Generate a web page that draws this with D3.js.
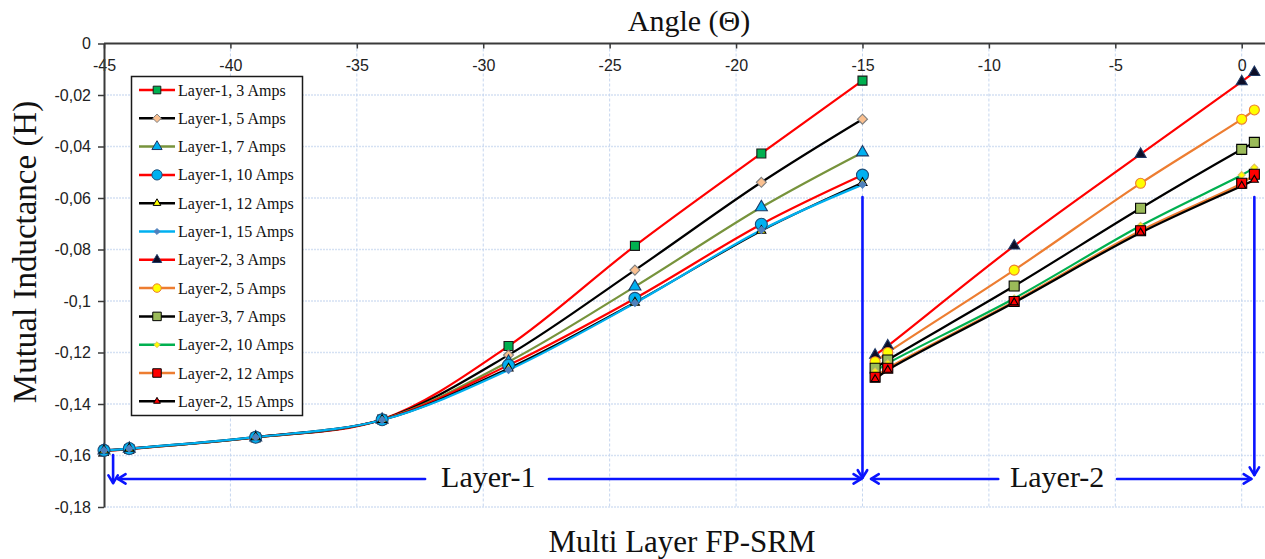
<!DOCTYPE html>
<html>
<head>
<meta charset="utf-8">
<script src="https://cdn.jsdelivr.net/npm/d3@7/dist/d3.min.js"></script>
<style>
  html, body { margin: 0; padding: 0; background: #fff; }
  svg { display: block; }
</style>
</head>
<body>
<svg id="chart" width="1265" height="559"></svg>
<script>
// ---------- DATA ----------
const xTickValues = [-45, -40, -35, -30, -25, -20, -15, -10, -5, 0];
const xTickLabels = ["-45", "-40", "-35", "-30", "-25", "-20", "-15", "-10", "-5", "0"];
const yTickValues = [0, -0.02, -0.04, -0.06, -0.08, -0.1, -0.12, -0.14, -0.16, -0.18];
const yTickLabels = ["0", "-0,02", "-0,04", "-0,06", "-0,08", "-0,1", "-0,12", "-0,14", "-0,16", "-0,18"];

const anglesLayer1 = [-45, -44, -39, -34, -29, -24, -19, -15];
const anglesLayer2 = [-14.5, -14, -9, -4, 0, 0.5];

const seriesNames = [
  "Layer-1, 3 Amps", "Layer-1, 5 Amps", "Layer-1, 7 Amps", "Layer-1, 10 Amps",
  "Layer-1, 12 Amps", "Layer-1, 15 Amps", "Layer-2, 3 Amps", "Layer-2, 5 Amps",
  "Layer-3, 7 Amps", "Layer-2, 10 Amps", "Layer-2, 12 Amps", "Layer-2, 15 Amps"
];

const layer1_3A  = [-0.1582, -0.1575, -0.1530, -0.1460, -0.1175, -0.0786, -0.0427, -0.0144];
const layer1_5A  = [-0.1581, -0.1574, -0.1530, -0.1460, -0.1210, -0.0880, -0.0539, -0.0294];
const layer1_7A  = [-0.1581, -0.1574, -0.1530, -0.1461, -0.1236, -0.0944, -0.0636, -0.0423];
const layer1_10A = [-0.1580, -0.1573, -0.1529, -0.1461, -0.1249, -0.0990, -0.0702, -0.0511];
const layer1_12A = [-0.1580, -0.1573, -0.1529, -0.1462, -0.1262, -0.1006, -0.0727, -0.0541];
const layer1_15A = [-0.1580, -0.1573, -0.1529, -0.1462, -0.1268, -0.1008, -0.0724, -0.0548];

const layer2_3A  = [-0.1210, -0.1174, -0.0786, -0.0430, -0.0148, -0.0112];
const layer2_5A  = [-0.1236, -0.1200, -0.0880, -0.0543, -0.0294, -0.0258];
const layer3_7A  = [-0.1261, -0.1229, -0.0942, -0.0640, -0.0411, -0.0384];
const layer2_10A = [-0.1274, -0.1242, -0.0990, -0.0708, -0.0511, -0.0482];
const layer2_12A = [-0.1296, -0.1261, -0.1002, -0.0727, -0.0543, -0.0508];
const layer2_15A = [-0.1304, -0.1268, -0.1006, -0.0735, -0.0553, -0.0530];

// Annotation positions (data units)
const layerLabels = ["Layer-1", "Layer-2"];

// ---------- STYLES ----------
const styles = [
  { line: "#ff0000", shape: "square",   fill: "#00b050", stroke: "#1a1a1a", size: 9 },
  { line: "#000000", shape: "diamond",  fill: "#fac090", stroke: "#7f7f7f", size: 10 },
  { line: "#77933c", shape: "triangle", fill: "#00b0f0", stroke: "#1f3864", size: 12 },
  { line: "#ff0000", shape: "circle",   fill: "#00b0f0", stroke: "#1f4e79", size: 12 },
  { line: "#000000", shape: "triangle", fill: "#ffff00", stroke: "#000000", size: 9 },
  { line: "#00b0f0", shape: "diamond",  fill: "#4f81bd", stroke: "#4f81bd", size: 7 },
  { line: "#ff0000", shape: "triangle", fill: "#0d0d26", stroke: "#1f3864", size: 11 },
  { line: "#ed7d31", shape: "circle",   fill: "#ffff00", stroke: "#ed7d31", size: 10 },
  { line: "#000000", shape: "square",   fill: "#9bbb59", stroke: "#000000", size: 10 },
  { line: "#00b050", shape: "diamond",  fill: "#ffff00", stroke: "#e0c060", size: 7 },
  { line: "#ed7d31", shape: "square",   fill: "#ff0000", stroke: "#000000", size: 10 },
  { line: "#000000", shape: "triangle", fill: "#ff0000", stroke: "#000000", size: 8 }
];

const seriesValues = [layer1_3A, layer1_5A, layer1_7A, layer1_10A, layer1_12A, layer1_15A,
                      layer2_3A, layer2_5A, layer3_7A, layer2_10A, layer2_12A, layer2_15A];

const series = seriesNames.map((name, i) => {
  const xs = i < 6 ? anglesLayer1 : anglesLayer2;
  return { name, style: styles[i], points: xs.map((x, j) => ({ x, y: seriesValues[i][j] })) };
});

// ---------- CHART ----------
const svg = d3.select("#chart");
const x = d3.scaleLinear().domain([-45, 1]).range([104, 1267]);
const y = d3.scaleLinear().domain([0, -0.18]).range([43.5, 507]);

const serif = "'Liberation Serif', 'Times New Roman', serif";
const sans = "'Liberation Sans', Arial, sans-serif";

// gridlines
svg.append("g").selectAll("line").data(yTickValues.slice(1)).join("line")
  .attr("x1", x(-45)).attr("x2", 1265)
  .attr("y1", d => y(d)).attr("y2", d => y(d))
  .attr("stroke", "#d5e1f3").attr("stroke-width", 1.5).attr("stroke-dasharray", "2,1");
svg.append("g").selectAll("line").data(xTickValues.slice(1)).join("line")
  .attr("x1", d => x(d)).attr("x2", d => x(d))
  .attr("y1", y(0)).attr("y2", y(-0.18))
  .attr("stroke", "#c5d6ef").attr("stroke-width", 1).attr("stroke-dasharray", "3,2");

// top x-axis (ticks pointing down, labels below the line)
const xAxis = d3.axisBottom(x).tickValues(xTickValues)
  .tickFormat((d, i) => xTickLabels[i]).tickSize(5).tickSizeOuter(0);
const gx = svg.append("g").attr("transform", `translate(0,${y(0)})`).call(xAxis);
gx.select(".domain").attr("stroke", "#3a3a3a").attr("stroke-width", 2)
  .attr("d", `M${x(-45)},0H1265`);
gx.selectAll(".tick line").attr("stroke", "#3a3a3a").attr("stroke-width", 1.5);
gx.selectAll(".tick text").attr("font-family", sans).attr("font-size", 16)
  .attr("fill", "#222").attr("dy", null).attr("y", 27);

// left y-axis
const yAxis = d3.axisLeft(y).tickValues(yTickValues)
  .tickFormat((d, i) => yTickLabels[i]).tickSize(6).tickSizeOuter(0);
const gy = svg.append("g").attr("transform", `translate(${x(-45)},0)`).call(yAxis);
gy.select(".domain").attr("stroke", "#3a3a3a").attr("stroke-width", 2);
gy.selectAll(".tick line").attr("stroke", "#3a3a3a").attr("stroke-width", 1.5);
gy.selectAll(".tick text").attr("font-family", sans).attr("font-size", 16)
  .attr("fill", "#222").attr("x", -13);

// symbols
function symbolPath(shape, size) {
  const s = size;
  if (shape === "square") return d3.symbol(d3.symbolSquare, s * s)();
  if (shape === "circle") return d3.symbol(d3.symbolCircle, Math.PI * (s / 2) * (s / 2))();
  if (shape === "triangle") return d3.symbol(d3.symbolTriangle, s * s * 0.433)();
  // diamond (rotated square)
  const h = s / 2;
  return `M0,${-h}L${h},0L0,${h}L${-h},0Z`;
}

// lines
const lineGen = d3.line().x(d => x(d.x)).y(d => y(d.y)).curve(d3.curveCatmullRom.alpha(0.5));
const gLines = svg.append("g");
series.forEach(s => {
  gLines.append("path").datum(s.points)
    .attr("d", lineGen).attr("fill", "none")
    .attr("stroke", s.style.line).attr("stroke-width", 2.2);
});
// markers
const gMarks = svg.append("g");
series.forEach(s => {
  gMarks.selectAll(null).data(s.points).join("path")
    .attr("d", symbolPath(s.style.shape, s.style.size))
    .attr("transform", d => `translate(${x(d.x)},${y(d.y)})`)
    .attr("fill", s.style.fill).attr("stroke", s.style.stroke).attr("stroke-width", 1.1);
});

// legend
const legend = svg.append("g");
legend.append("rect").attr("x", 131.5).attr("y", 76.5).attr("width", 171).attr("height", 339)
  .attr("fill", "#fff").attr("stroke", "#1a1a1a").attr("stroke-width", 1.5);
series.forEach((s, i) => {
  const cy = 90 + i * 28.3;
  legend.append("line").attr("x1", 139).attr("x2", 175).attr("y1", cy).attr("y2", cy)
    .attr("stroke", s.style.line).attr("stroke-width", 2.5);
  legend.append("path").attr("d", symbolPath(s.style.shape, s.style.size * 0.85))
    .attr("transform", `translate(157,${cy})`)
    .attr("fill", s.style.fill).attr("stroke", s.style.stroke).attr("stroke-width", 1);
  legend.append("text").attr("x", 178).attr("y", cy + 5.5)
    .attr("font-family", serif).attr("font-size", 16).attr("fill", "#111").text(s.name);
});

// annotation arrows
const blue = "#0a14ff";
const gAnn = svg.append("g").attr("stroke", blue).attr("stroke-width", 2.6).attr("fill", "none")
  .attr("stroke-linecap", "round").attr("stroke-linejoin", "round");
function arrow(x1, y1, x2, y2) {
  gAnn.append("line").attr("x1", x1).attr("y1", y1).attr("x2", x2).attr("y2", y2);
  const ang = Math.atan2(y2 - y1, x2 - x1);
  const L = 9, a = 0.55;
  const p1 = [x2 - L * Math.cos(ang - a), y2 - L * Math.sin(ang - a)];
  const p2 = [x2 - L * Math.cos(ang + a), y2 - L * Math.sin(ang + a)];
  gAnn.append("path").attr("d", `M${p1[0]},${p1[1]}L${x2},${y2}L${p2[0]},${p2[1]}`);
}
const ay = y(-0.1691);
arrow(x(-44.64), y(-0.1598), x(-44.64), y(-0.1707));
arrow(x(-32.3), ay, x(-44.45), ay);
arrow(x(-27.4), ay, x(-15.05), ay);
arrow(x(-15), y(-0.0596), x(-15), y(-0.1687));
arrow(x(-9.63), ay, x(-14.66), ay);
arrow(x(-4.93), ay, x(0.38), ay);
arrow(x(0.5), y(-0.0596), x(0.5), y(-0.1676));

svg.append("text").attr("x", x(-29.8)).attr("y", ay + 8.5).attr("text-anchor", "middle")
  .attr("font-family", serif).attr("font-size", 30).attr("fill", "#111").text(layerLabels[0]);
svg.append("text").attr("x", x(-7.3)).attr("y", ay + 8.5).attr("text-anchor", "middle")
  .attr("font-family", serif).attr("font-size", 30).attr("fill", "#111").text(layerLabels[1]);

// titles
svg.append("text").attr("x", 689).attr("y", 31).attr("text-anchor", "middle")
  .attr("font-family", serif).attr("font-size", 30).attr("fill", "#111").text("Angle (Θ)");
svg.append("text").attr("x", 682).attr("y", 552).attr("text-anchor", "middle")
  .attr("font-family", serif).attr("font-size", 31).attr("fill", "#111").text("Multi Layer FP-SRM");
svg.append("text").attr("transform", "translate(36,252) rotate(-90)").attr("text-anchor", "middle")
  .attr("font-family", serif).attr("font-size", 33).attr("fill", "#111").text("Mutual Inductance (H)");
</script>
</body>
</html>
